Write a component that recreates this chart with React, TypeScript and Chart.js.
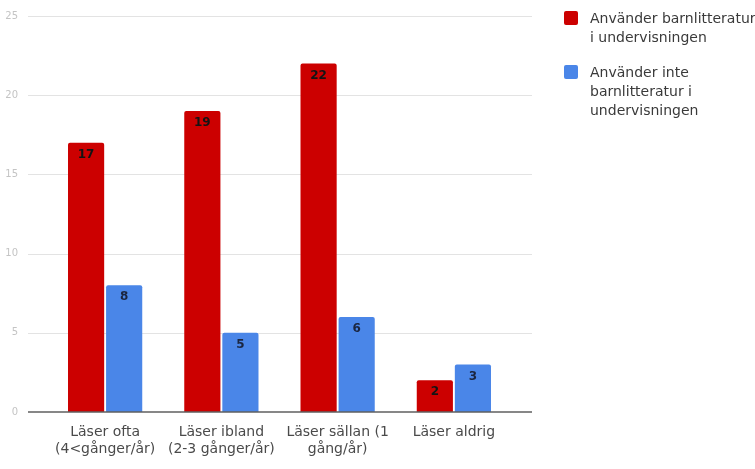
import React, { useEffect, useRef } from "react";
import { Chart, registerables } from "chart.js";

Chart.register(...registerables);

const categories: string[][] = [
  ["Läser ofta", "(4<gånger/år)"],
  ["Läser ibland", "(2-3 gånger/år)"],
  ["Läser sällan (1", "gång/år)"],
  ["Läser aldrig"],
];
const usesValues = [17, 19, 22, 2];
const notUsesValues = [8, 5, 6, 3];
const seriesNames = ["Använder barnlitteratur i undervisningen", "Använder inte barnlitteratur i undervisningen"];
const legendLines: string[][] = [
  ["Använder barnlitteratur", "i undervisningen"],
  ["Använder inte", "barnlitteratur i", "undervisningen"],
];
const yMax = 25;
const yStep = 5;

const RED = "#cc0000";
const BLUE = "#4a86e8";
const FONT = "'DejaVu Sans', Roboto, Arial, sans-serif";

export default function App() {
  const ref = useRef<HTMLCanvasElement | null>(null);
  useEffect(() => {
    if (!ref.current) return;
    const gridPlugin = {
      id: "gridExt",
      beforeDatasetsDraw(chart: any) {
        const { ctx, chartArea, scales } = chart;
        const y = scales.y;
        ctx.save();
        ctx.strokeStyle = "#e3e3e3";
        ctx.lineWidth = 1;
        for (let v = yStep; v <= yMax; v += yStep) {
          const py = Math.round(y.getPixelForValue(v)) + 0.5;
          ctx.beginPath();
          ctx.moveTo(chartArea.left - 19, py);
          ctx.lineTo(chartArea.right + 20, py);
          ctx.stroke();
        }
        ctx.restore();
      },
      afterDatasetsDraw(chart: any) {
        const { ctx, chartArea, scales } = chart;
        const y = scales.y;
        ctx.save();
        ctx.strokeStyle = "#5f5f5f";
        ctx.lineWidth = 1.5;
        const py = y.getPixelForValue(0);
        ctx.beginPath();
        ctx.moveTo(chartArea.left - 19, py);
        ctx.lineTo(chartArea.right + 20, py);
        ctx.stroke();
        ctx.font = `bold 12px ${FONT}`;
        ctx.textAlign = "center";
        ctx.textBaseline = "middle";
        chart.data.datasets.forEach((ds: any, di: number) => {
          const meta = chart.getDatasetMeta(di);
          meta.data.forEach((el: any, i: number) => {
            ctx.fillStyle = di === 0 ? "#141414" : "#1b2640";
            ctx.fillText(String(ds.data[i]), el.x, el.y + 12);
          });
        });
        ctx.restore();
      },
      afterDraw(chart: any) {
        const { ctx } = chart;
        ctx.save();
        const colors = [RED, BLUE];
        const tops = [11, 65];
        const firstBaselines = [22.5, 77];
        ctx.font = `14px ${FONT}`;
        ctx.textAlign = "left";
        ctx.textBaseline = "alphabetic";
        legendLines.forEach((lines, i) => {
          ctx.fillStyle = colors[i];
          ctx.beginPath();
          (ctx as any).roundRect(564, tops[i], 14, 14, 2);
          ctx.fill();
          ctx.fillStyle = "#3a3a3a";
          lines.forEach((l, j) => {
            ctx.fillText(l, 590, firstBaselines[i] + j * 19);
          });
        });
        ctx.restore();
      },
    };

    const chart = new Chart(ref.current, {
      type: "bar",
      data: {
        labels: categories,
        datasets: [
          {
            label: seriesNames[0],
            data: usesValues,
            backgroundColor: RED,
            borderRadius: 2,
            borderSkipped: "bottom",
            categoryPercentage: 0.655,
            barPercentage: 0.95,
          },
          {
            label: seriesNames[1],
            data: notUsesValues,
            backgroundColor: BLUE,
            borderRadius: 2,
            borderSkipped: "bottom",
            categoryPercentage: 0.655,
            barPercentage: 0.95,
          },
        ],
      },
      options: {
        animation: false,
        responsive: true,
        maintainAspectRatio: false,
        layout: { padding: { top: 16, right: 243, left: 0, bottom: 0 } },
        plugins: {
          legend: { display: false },
          tooltip: { enabled: false },
        },
        scales: {
          x: {
            grid: { display: false, drawTicks: false },
            border: { display: false },
            ticks: {
              color: "#4a4a4a",
              font: { family: FONT, size: 14, lineHeight: 1.2 },
              padding: 12,
              maxRotation: 0,
              autoSkip: false,
            },
            afterFit(scale: any) {
              scale.height = 57;
            },
          },
          y: {
            min: 0,
            max: yMax,
            grid: { display: false, drawTicks: false },
            border: { display: false },
            ticks: {
              stepSize: yStep,
              color: "#c4c4c4",
              font: { family: FONT, size: 10 },
              padding: 29,
            },
            afterFit(scale: any) {
              scale.width = 47;
              scale.paddingTop = 6;
              scale.paddingBottom = 6;
            },
          },
        },
      },
      plugins: [gridPlugin],
    });
    return () => chart.destroy();
  }, []);

  return (
    <div style={{ position: "absolute", left: 0, top: 0, width: 755, height: 469, background: "#fff" }}>
      <canvas ref={ref} />
    </div>
  );
}
